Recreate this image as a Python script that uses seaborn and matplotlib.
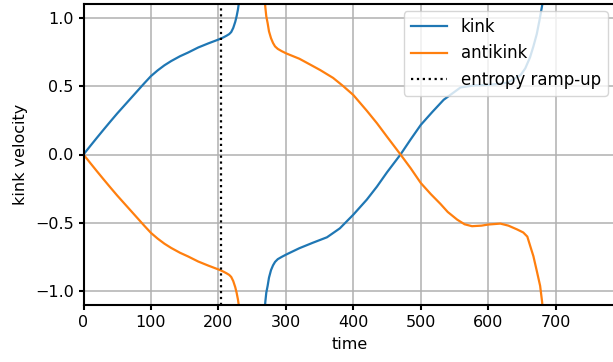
import numpy as np
import pandas as pd
import matplotlib
matplotlib.use("Agg")
import matplotlib.pyplot as plt
from matplotlib.lines import Line2D
import seaborn as sns

# ---- data ----
kink_t1 = [0, 10, 20, 30, 40, 50, 60, 70, 80, 90, 100, 110, 120, 130, 143, 155, 170, 185, 200,
           207, 212, 216, 219, 222, 225, 227, 229, 231, 233]
kink_v1 = [0, 0.062, 0.123, 0.183, 0.242, 0.30, 0.355, 0.41, 0.465, 0.52, 0.573, 0.615, 0.652,
           0.683, 0.718, 0.745, 0.782, 0.812, 0.84, 0.855, 0.868, 0.88, 0.895, 0.925, 0.97, 1.01,
           1.06, 1.13, 1.25]

kink_t2 = [267, 268, 269.5, 271, 273, 275, 278, 281, 284, 288, 294, 301, 320, 340, 361, 380, 400,
           420, 435, 450, 470, 485, 500, 517, 534, 559, 579, 600, 628, 648, 655, 662, 667, 672,
           676, 680, 683]
kink_v2 = [-1.3, -1.2, -1.08, -1.01, -0.96, -0.90, -0.845, -0.81, -0.785, -0.765, -0.748, -0.73,
           -0.685, -0.645, -0.605, -0.54, -0.44, -0.33, -0.235, -0.13, 0.0, 0.11, 0.216, 0.31,
           0.40, 0.49, 0.505, 0.508, 0.524, 0.58, 0.63, 0.71, 0.79, 0.88, 0.98, 1.09, 1.25]

anti_t1 = [0, 10, 20, 30, 40, 50, 60, 70, 80, 90, 100, 110, 120, 130, 143, 155, 170, 185, 200,
           207, 212, 216, 219, 222, 225, 227, 229, 231, 233]
anti_v1 = [0, -0.062, -0.123, -0.183, -0.242, -0.30, -0.355, -0.41, -0.465, -0.52, -0.573, -0.615,
           -0.652, -0.683, -0.718, -0.745, -0.782, -0.812, -0.84, -0.855, -0.868, -0.88, -0.895,
           -0.925, -0.97, -1.01, -1.06, -1.13, -1.25]

anti_t2 = [267, 268, 269.5, 271, 273, 275, 278, 281, 284, 288, 294, 301, 320, 335, 351, 370, 385,
           400, 420, 435, 450, 470, 485, 500, 515, 529, 540, 554, 565, 576, 590, 600, 618, 630,
           643, 652, 658, 663, 667, 672, 677, 680, 683]
anti_v2 = [1.3, 1.2, 1.08, 1.01, 0.96, 0.90, 0.85, 0.815, 0.79, 0.772, 0.755, 0.738, 0.70, 0.66,
           0.617, 0.56, 0.50, 0.435, 0.32, 0.229, 0.13, 0.0, -0.10, -0.208, -0.29, -0.36, -0.42,
           -0.476, -0.51, -0.524, -0.52, -0.512, -0.505, -0.52, -0.548, -0.57, -0.60, -0.68,
           -0.743, -0.85, -0.96, -1.08, -1.3]

ramp_up_time = 204
series_names = ["kink", "antikink"]
colors = ["#1f77b4", "#ff7f0e"]

# ---- build long table ----
frames = []
for name, seg, t, v in [("kink", 1, kink_t1, kink_v1), ("kink", 2, kink_t2, kink_v2),
                        ("antikink", 1, anti_t1, anti_v1), ("antikink", 2, anti_t2, anti_v2)]:
    frames.append(pd.DataFrame({"time": t, "velocity": v, "particle": name,
                                "segment": f"{name}{seg}"}))
df = pd.concat(frames, ignore_index=True)

FS = 11.5
plt.rcParams["axes.linewidth"] = 1.5
plt.rcParams["xtick.major.width"] = 1.5
plt.rcParams["ytick.major.width"] = 1.5

fig = plt.figure(figsize=(6.13, 3.62), dpi=100)
ax = fig.add_axes([83.5 / 613, 57 / 362, (615 - 83.5) / 613, 301 / 362])

sns.lineplot(data=df, x="time", y="velocity", hue="particle", units="segment",
             estimator=None, palette=dict(zip(series_names, colors)),
             hue_order=series_names, linewidth=1.6, legend=False, ax=ax, sort=False)

ax.axvline(ramp_up_time, color="black", linestyle=":", linewidth=1.6)

ax.set_xlim(0, 788)
ax.set_ylim(-1.1, 1.1)
ax.set_xticks([0, 100, 200, 300, 400, 500, 600, 700])
ax.set_yticks([-1.0, -0.5, 0.0, 0.5, 1.0])
ax.grid(True, color="#b0b0b0", linewidth=1.1)
ax.set_axisbelow(True)
ax.set_xlabel("time", fontsize=FS, labelpad=5)
ax.set_ylabel("kink velocity", fontsize=FS, labelpad=5)
ax.tick_params(labelsize=FS)

handles = [Line2D([], [], color=colors[0], linewidth=1.6),
           Line2D([], [], color=colors[1], linewidth=1.6),
           Line2D([], [], color="black", linestyle=":", linewidth=1.6)]
ax.legend(handles, ["kink", "antikink", "entropy ramp-up"], loc="upper right",
          fontsize=12, framealpha=0.8, handlelength=2.2, borderaxespad=0.45)

fig.savefig("out.png", dpi=100)
